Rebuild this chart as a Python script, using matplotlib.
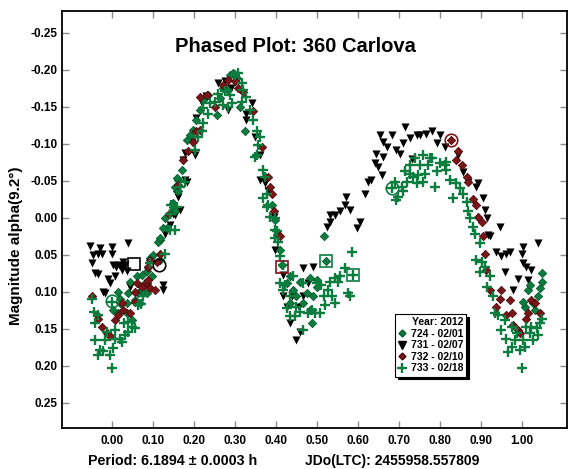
import numpy as np
import matplotlib
matplotlib.use("Agg")
import matplotlib.pyplot as plt
from matplotlib.lines import Line2D

plt.rcParams['font.family'] = ['Liberation Sans', 'DejaVu Sans']
plt.rcParams['font.weight'] = 'bold'

# ---------------- data ----------------
# 731 - 02/07 (black down triangles)
p731 = [-0.054, -0.046, -0.033, -0.025, -0.029, -0.049, -0.041, -0.035, -0.009, -0.005,
        -0.021, -0.016, -0.001, -0.001, 0.040, 0.003, 0.010, 0.018, 0.024, 0.032,
        0.024, 0.007, 0.044, 0.125, 0.124, 0.028, 0.036, 0.129, 0.141, 0.150,
        0.154, 0.162, 0.166, 0.178, 0.182, 0.174, 0.178, 0.194, 0.202, 0.206,
        0.219, 0.230, 0.259, 0.275, 0.284, 0.290, 0.328, 0.341, 0.328, 0.349,
        0.361, 0.361, 0.373, 0.381, 0.394, 0.398, 0.418, 0.418, 0.426, 0.434,
        0.450, 0.459, 0.467, 0.491, 0.479, 0.467, 0.440, 0.455, 0.524, 0.532,
        0.532, 0.544, 0.556, 0.568, 0.572, 0.580, 0.597, 0.605, 0.617, 0.625,
        0.633, 0.641, 0.645, 0.650, 0.658, 0.662, 0.654, 0.662, 0.682, 0.670,
        0.694, 0.702, 0.711, 0.715, 0.727, 0.731, 0.743, 0.751, 0.767, 0.780,
        0.792, 0.800, 0.812, 0.845, 0.857, 0.869, 0.889, 0.893, 0.906, 0.910,
        0.914, 0.918, 0.946, 0.922, 0.938, 0.950, 0.962, 0.999, 1.040, 1.003,
        1.023, 1.010, 0.959, 0.991, 0.979, 1.015, 1.003, 0.970]
m731 = [0.038, 0.050, 0.048, 0.049, 0.041, 0.061, 0.075, 0.076, 0.082, 0.088,
        0.100, 0.102, 0.039, 0.048, 0.034, 0.064, 0.066, 0.064, 0.066, 0.064,
        0.070, 0.079, 0.093, 0.090, 0.097, 0.060, 0.072, 0.021, 0.009, -0.006,
        -0.004, -0.029, -0.011, -0.051, -0.049, -0.078, -0.088, -0.103, -0.085, -0.135,
        -0.155, -0.165, -0.182, -0.185, -0.146, -0.175, -0.141, -0.155, -0.132, -0.110,
        -0.085, -0.051, -0.047, -0.036, -0.002, 0.043, 0.077, 0.106, 0.120, 0.142,
        0.165, 0.154, 0.068, 0.066, 0.088, 0.106, 0.105, 0.120, 0.012, 0.005,
        -0.004, -0.004, -0.009, -0.018, -0.028, -0.011, 0.014, 0.005, -0.033, -0.049,
        -0.051, -0.074, -0.087, -0.069, -0.058, -0.083, -0.112, -0.103, -0.112, -0.096,
        -0.092, -0.087, -0.101, -0.123, -0.108, -0.080, -0.112, -0.112, -0.114, -0.117,
        -0.101, -0.112, -0.096, -0.085, -0.062, -0.049, -0.042, -0.047, -0.027, -0.011,
        0.000, 0.023, 0.012, 0.025, 0.046, 0.052, 0.048, 0.048, 0.034, 0.061,
        0.070, 0.066, 0.073, 0.082, 0.097, 0.084, 0.039, 0.046]

# 724 - 02/01 (green diamonds)
p724 = [0.003, 0.015, 0.020, 0.036, 0.036, 0.048, 0.020, 0.056, 0.064, 0.068,
        0.085, 0.015, 0.040, 0.044, 0.060, 0.072, 0.085, 0.080, 0.072, 0.097,
        0.089, 0.093, 0.117, 0.117, 0.113, 0.101, 0.129, 0.133, 0.125, 0.117,
        0.150, 0.150, 0.154, 0.158, 0.162, 0.154, 0.158, 0.170, 0.162, 0.182,
        0.190, 0.198, 0.206, 0.215, 0.223, 0.235, 0.255, 0.263, 0.271, 0.284,
        0.288, 0.296, 0.304, 0.312, 0.324, 0.390, 0.398, 0.402, 0.410, 0.414,
        0.426, 0.434, 0.434, 0.442, 0.450, 0.459, 0.467, 0.475, 0.483, 0.483,
        0.487, 0.491, 0.499, 0.499, 0.516, 0.522, 1.016, 1.040, 1.007, 1.028,
        1.048, 1.003, 1.044, 1.032, 1.020, 1.048]
m724 = [0.124, 0.129, 0.115, 0.115, 0.129, 0.138, 0.109, 0.111, 0.102, 0.115,
        0.102, 0.100, 0.102, 0.086, 0.079, 0.077, 0.072, 0.088, 0.097, 0.079,
        0.066, 0.054, 0.057, 0.030, 0.032, 0.050, 0.000, 0.014, 0.014, 0.027,
        -0.020, -0.015, -0.009, -0.036, -0.051, -0.042, -0.054, -0.065, -0.036, -0.105,
        -0.112, -0.119, -0.132, -0.146, -0.159, -0.166, -0.139, -0.162, -0.175, -0.173,
        -0.193, -0.196, -0.189, -0.150, -0.117, -0.018, 0.003, 0.023, 0.043, 0.064,
        0.088, 0.079, 0.115, 0.097, 0.106, 0.086, 0.115, 0.102, 0.081, 0.124,
        0.142, 0.106, 0.084, 0.093, 0.025, 0.058, 0.097, 0.106, 0.120, 0.115,
        0.086, 0.113, 0.095, 0.124, 0.090, 0.075]

# 732 - 02/10 (dark red diamonds)
p732 = [-0.050, -0.037, -0.033, -0.025, -0.013, -0.005, 0.007, 0.015, 0.024, 0.028,
        0.044, 0.056, 0.072, 0.085, 0.093, 0.105, 0.089, 0.060, 0.056, 0.093,
        0.089, 0.117, 0.109, 0.140, 0.160, 0.174, 0.185, 0.198, 0.206, 0.215,
        0.215, 0.231, 0.251, 0.270, 0.284, 0.300, 0.308, 0.320, 0.345, 0.365,
        0.373, 0.381, 0.385, 0.390, 0.394, 0.406, 0.410, 0.828, 0.845, 0.840,
        0.853, 0.865, 0.869, 0.881, 0.889, 0.893, 0.902, 0.906, 0.910, 0.922,
        0.946, 0.938, 0.962, 0.979, 0.991, 0.995, 1.011, 1.023, 1.032, 1.016,
        1.044, 0.950, 0.971, 0.975, 0.912]
m732 = [0.106, 0.131, 0.136, 0.147, 0.156, 0.160, 0.138, 0.131, 0.115, 0.124,
        0.129, 0.113, 0.093, 0.088, 0.095, 0.097, 0.084, 0.088, 0.100, 0.057,
        0.066, 0.048, 0.059, -0.005, -0.045, -0.078, -0.090, -0.103, -0.117, -0.119,
        -0.164, -0.166, -0.150, -0.180, -0.186, -0.185, -0.175, -0.170, -0.144, -0.096,
        -0.056, -0.056, -0.042, -0.033, -0.009, 0.023, 0.025, -0.105, -0.090, -0.078,
        -0.072, -0.056, -0.049, -0.025, -0.018, -0.002, 0.005, 0.025, 0.048, 0.097,
        0.109, 0.120, 0.131, 0.145, 0.151, 0.156, 0.136, 0.111, 0.115, 0.129,
        0.129, 0.097, 0.111, 0.129, 0.070]

# 733 - 02/18 (green plus)
p733 = [-0.050, -0.045, -0.041, -0.041, -0.029, -0.033, -0.017, -0.021, -0.005, -0.001,
        0.003, 0.007, 0.020, 0.024, 0.032, 0.040, 0.048, 0.056, 0.007, -0.013,
        -0.033, 0.040, 0.030, -0.001, 0.064, 0.070, 0.076, 0.093, 0.129, 0.141,
        0.154, 0.158, 0.141, 0.145, 0.166, 0.178, 0.202, 0.211, 0.219, 0.223,
        0.235, 0.239, 0.251, 0.259, 0.276, 0.288, 0.292, 0.300, 0.308, 0.316,
        0.320, 0.328, 0.316, 0.337, 0.345, 0.353, 0.361, 0.357, 0.353, 0.349,
        0.369, 0.373, 0.377, 0.369, 0.381, 0.377, 0.385, 0.398, 0.398, 0.402,
        0.398, 0.406, 0.410, 0.418, 0.271, 0.284, 0.223, 0.410, 0.422, 0.418,
        0.434, 0.426, 0.434, 0.446, 0.450, 0.459, 0.467, 0.487, 0.495, 0.507,
        0.520, 0.516, 0.528, 0.532, 0.544, 0.536, 0.544, 0.552, 0.556, 0.568,
        0.576, 0.580, 0.585, 0.589, 0.479, 0.442, 0.467, 0.499, 0.511, 0.682,
        0.690, 0.694, 0.698, 0.707, 0.711, 0.719, 0.727, 0.735, 0.743, 0.747,
        0.759, 0.763, 0.771, 0.776, 0.751, 0.788, 0.792, 0.800, 0.812, 0.816,
        0.824, 0.833, 0.840, 0.849, 0.857, 0.865, 0.869, 0.873, 0.881, 0.885,
        0.898, 0.889, 0.902, 0.898, 0.910, 0.914, 0.727, 0.739, 0.780, 0.759,
        0.715, 0.816, 0.922, 0.930, 0.934, 0.942, 0.959, 0.962, 0.975, 0.967,
        0.983, 1.003, 0.999, 1.011, 1.020, 1.036, 1.040, 1.044, 1.048, 0.987,
        1.023, 1.028, 1.007, 0.995, 0.950, 0.975]
m733 = [0.109, 0.127, 0.142, 0.165, 0.178, 0.185, 0.165, 0.180, 0.185, 0.203,
        0.176, 0.163, 0.163, 0.167, 0.158, 0.154, 0.147, 0.149, 0.151, 0.154,
        0.131, 0.140, 0.142, 0.113, 0.118, 0.116, 0.106, 0.061, 0.048, 0.016,
        0.016, -0.015, -0.006, -0.018, -0.042, -0.049, -0.092, -0.110, -0.117, -0.128,
        -0.141, -0.155, -0.157, -0.168, -0.171, -0.166, -0.155, -0.193, -0.196, -0.182,
        -0.173, -0.164, -0.157, -0.146, -0.132, -0.117, -0.110, -0.099, -0.085, -0.083,
        -0.065, -0.056, -0.033, -0.027, -0.018, -0.015, -0.002, 0.000, 0.016, 0.018,
        0.027, 0.032, 0.052, 0.064, -0.153, -0.150, -0.148, 0.088, 0.091, 0.097,
        0.106, 0.122, 0.133, 0.133, 0.120, 0.127, 0.151, 0.124, 0.129, 0.129,
        0.118, 0.106, 0.097, 0.086, 0.081, 0.106, 0.115, 0.086, 0.079, 0.068,
        0.102, 0.106, 0.046, 0.077, 0.129, 0.079, 0.088, 0.088, 0.091, -0.040,
        -0.049, -0.024, -0.029, -0.042, -0.036, -0.049, -0.060, -0.056, -0.047, -0.058,
        -0.049, -0.060, -0.072, -0.081, -0.072, -0.042, -0.063, -0.074, -0.072, -0.065,
        -0.051, -0.027, -0.047, -0.040, -0.033, -0.022, -0.009, 0.000, 0.012, 0.021,
        0.034, 0.057, 0.059, 0.073, 0.066, 0.093, -0.072, -0.081, -0.081, -0.085,
        -0.063, -0.076, 0.079, 0.106, 0.129, 0.131, 0.138, 0.163, 0.174, 0.181,
        0.165, 0.165, 0.203, 0.147, 0.156, 0.149, 0.158, 0.142, 0.136, 0.156,
        0.147, 0.165, 0.174, 0.178, 0.151, 0.147]

# session start markers
start_phase = [0.054, 0.115, 0.001, 0.415, 0.522, 0.589, 0.682, 0.828]
start_mag = [0.062, 0.064, 0.112, 0.066, 0.058, 0.077, -0.040, -0.105]

xticks = [0.0, 0.1, 0.2, 0.3, 0.4, 0.5, 0.6, 0.7, 0.8, 0.9, 1.0]
xtick_labels = ['0.00', '0.10', '0.20', '0.30', '0.40', '0.50', '0.60', '0.70', '0.80', '0.90', '1.00']
yticks = [-0.25, -0.20, -0.15, -0.10, -0.05, 0.0, 0.05, 0.10, 0.15, 0.20, 0.25]
ytick_labels = ['-0.25', '-0.20', '-0.15', '-0.10', '-0.05', '0.00', '0.05', '0.10', '0.15', '0.20', '0.25']

labels = ['724 - 02/01', '731 - 02/07', '732 - 02/10', '733 - 02/18']

# ---------------- styles ----------------
GREEN = '#0b7d3e'
GREEN_EDGE = '#06592b'
RED = '#7c1518'
RED_EDGE = '#4a0a0c'

W, H = 568, 469
fig = plt.figure(figsize=(W / 100, H / 100), dpi=100)
ax = fig.add_axes([62 / W, 1 - 428 / H, (567 - 62) / W, (428 - 11) / H])

ax.scatter(p731, m731, marker='v', s=34, c='black', linewidths=0, zorder=2)
ax.scatter(p724, m724, marker='D', s=18, c=GREEN, edgecolors=GREEN_EDGE, linewidths=0.6, zorder=3)
ax.scatter(p732, m732, marker='D', s=18, c=RED, edgecolors=RED_EDGE, linewidths=0.6, zorder=4)
ax.scatter(p733, m733, marker='+', s=46, c=GREEN, linewidths=1.7, zorder=5)

start_marker = ['s', 'o', 'o', 's', 's', 's', 'o', 'o']
start_color = ['black', 'black', GREEN, RED, GREEN, GREEN, GREEN, RED]
for ph, mg, mk, col in zip(start_phase, start_mag, start_marker, start_color):
    ax.plot([ph], [mg], marker=mk, ms=9, mfc='none', mec=col, mew=1.2, ls='none', zorder=6)

ax.set_xlim(-0.122, 1.11)
ax.set_ylim(0.2838, -0.2797)
ax.set_xticks(xticks)
ax.set_xticklabels(xtick_labels)
ax.set_yticks(yticks)
ax.set_yticklabels(ytick_labels)
ax.tick_params(direction='in', length=5, width=1, color='#8a8a8a', top=True, right=True,
               labelsize=8.5)
ax.tick_params(axis='x', pad=5)
ax.tick_params(axis='y', pad=3)
for sp in ax.spines.values():
    sp.set_linewidth(1.3)
    sp.set_color('black')

fig.text(295 / W, 1 - 46 / H, 'Phased Plot: 360 Carlova', ha='center', va='center',
         fontsize=14.5, fontweight='bold')
fig.text(16 / W, 1 - 246 / H, 'Magnitude alpha(9.2°)', rotation=90, ha='center', va='center',
         fontsize=11, fontweight='bold')
fig.text(88 / W, 1 - 461 / H, 'Period: 6.1894 ± 0.0003 h', ha='left', va='center',
         fontsize=10.3, fontweight='bold')
fig.text(305 / W, 1 - 461 / H, 'JDo(LTC): 2455958.557809', ha='left', va='center',
         fontsize=10, fontweight='bold')

handles = [
    Line2D([], [], marker='D', ls='none', ms=3.5, mfc=GREEN, mec=GREEN_EDGE),
    Line2D([], [], marker='v', ls='none', ms=5.5, mfc='black', mec='black'),
    Line2D([], [], marker='D', ls='none', ms=3.5, mfc=RED, mec=RED_EDGE),
    Line2D([], [], marker='+', ls='none', ms=7, mec=GREEN, mew=1.7),
]
leg = fig.legend(handles, labels, title='Year: 2012', loc='upper left',
                 bbox_to_anchor=(395 / W, 1 - 314 / H), bbox_transform=fig.transFigure,
                 fontsize=7.5, title_fontproperties={'weight': 'bold', 'size': 7.5},
                 frameon=True, fancybox=False, shadow={'color': 'black', 'alpha': 1.0},
                 borderpad=0.3, labelspacing=0.15, handlelength=0.8, handletextpad=0.4,
                 borderaxespad=0, alignment='right')
leg.get_frame().set_edgecolor('black')
leg.get_frame().set_linewidth(0.8)
leg.set_zorder(10)

fig.savefig('out.png', dpi=100)
